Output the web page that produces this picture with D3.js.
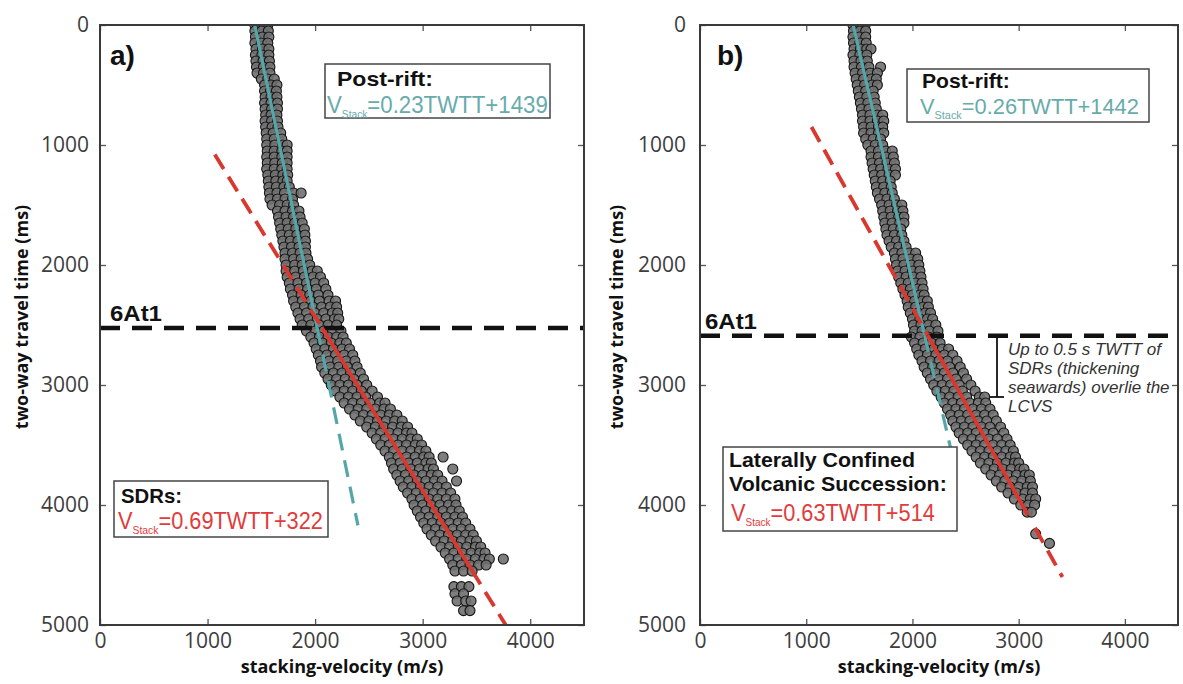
<!DOCTYPE html>
<html>
<head>
<meta charset="utf-8">
<script src="https://d3js.org/d3.v7.min.js"></script>
<style>
  body { margin: 0; background: #fff; }
  svg { display: block; }
</style>
</head>
<body>
<div id="chart"></div>
<script>
const svgWidth = 1183, svgHeight = 684;

const xTicks = [0, 1000, 2000, 3000, 4000];
const yTicks = [0, 1000, 2000, 3000, 4000, 5000];
const xDomain = [0, 4500];
const yDomain = [0, 5000];

// scatter picks, one row per TWTT (ms): [twtt, [stacking velocities (m/s)]]
const aPostRiftRows = [
  [0, [1440, 1500, 1560]], [50, [1440, 1505, 1565]], [100, [1445, 1510, 1570]],
  [150, [1440, 1500, 1560]], [200, [1450, 1510, 1570]], [250, [1445, 1505, 1570]],
  [300, [1450, 1515, 1575]], [350, [1455, 1520, 1580]], [400, [1460, 1520, 1580]],
  [450, [1500, 1560, 1620]], [500, [1530, 1590, 1645]], [550, [1530, 1585, 1640]],
  [600, [1535, 1590, 1645]], [650, [1530, 1590, 1650]], [700, [1535, 1595, 1650]],
  [750, [1540, 1590, 1645]], [800, [1535, 1595, 1650]], [850, [1540, 1600, 1655]],
  [900, [1545, 1610, 1680]], [950, [1550, 1620, 1690]], [1000, [1550, 1625, 1700, 1740]],
  [1050, [1555, 1620, 1690, 1740]], [1100, [1550, 1620, 1690, 1740]], [1150, [1555, 1625, 1695, 1740]],
  [1200, [1550, 1620, 1690, 1740]], [1250, [1560, 1630, 1700, 1745]], [1300, [1565, 1635, 1700, 1740]],
  [1350, [1570, 1640, 1710, 1760]], [1400, [1575, 1645, 1715, 1800, 1870]], [1450, [1580, 1650, 1720, 1790]],
  [1500, [1600, 1670, 1740, 1800]], [1550, [1650, 1720, 1790, 1850]], [1600, [1660, 1730, 1800, 1860]],
  [1650, [1670, 1740, 1810, 1880]], [1700, [1680, 1750, 1820, 1900]], [1750, [1690, 1760, 1830, 1905]],
  [1800, [1700, 1770, 1840, 1910]], [1850, [1710, 1780, 1850, 1910]], [1900, [1720, 1790, 1860, 1915]],
  [1950, [1720, 1800, 1870, 1930]], [2000, [1730, 1810, 1880, 1950]], [2050, [1730, 1810, 1890, 1970, 2020]],
  [2100, [1740, 1820, 1900, 1980, 2050]], [2150, [1760, 1840, 1920, 2000, 2080]], [2200, [1770, 1850, 1930, 2010, 2100]],
  [2250, [1790, 1870, 1950, 2030, 2120]], [2300, [1800, 1880, 1960, 2040, 2130, 2190]],
  [2350, [1820, 1900, 1980, 2060, 2140, 2200]], [2400, [1840, 1920, 2000, 2080, 2160, 2210]],
  [2450, [1860, 1940, 2020, 2100, 2180, 2220]], [2500, [1880, 1960, 2040, 2120, 2200]]
];
const aSdrRows = [
  [2550, [1920, 2000, 2080, 2160, 2240]], [2600, [1960, 2040, 2120, 2200, 2260]],
  [2650, [1990, 2070, 2150, 2230, 2290]], [2700, [2010, 2090, 2170, 2250, 2320]],
  [2750, [2030, 2110, 2190, 2270, 2350]], [2800, [2050, 2130, 2210, 2290, 2370]],
  [2850, [2060, 2140, 2220, 2300, 2390]], [2900, [2090, 2170, 2250, 2330, 2420]],
  [2950, [2120, 2200, 2280, 2360, 2450]], [3000, [2150, 2230, 2310, 2390, 2480]],
  [3050, [2190, 2270, 2350, 2430, 2530]], [3100, [2230, 2310, 2390, 2470, 2580]],
  [3150, [2270, 2350, 2430, 2510, 2600, 2650]], [3200, [2320, 2400, 2480, 2560, 2640, 2700]],
  [3250, [2370, 2450, 2530, 2610, 2690, 2760]], [3300, [2420, 2500, 2580, 2660, 2740, 2810]],
  [3350, [2480, 2560, 2640, 2720, 2800, 2860]], [3400, [2530, 2610, 2690, 2770, 2850, 2900]],
  [3450, [2570, 2650, 2730, 2810, 2890, 2950]], [3500, [2610, 2690, 2770, 2850, 2930, 2990]],
  [3550, [2650, 2730, 2810, 2890, 2970, 3030]], [3600, [2690, 2770, 2850, 2930, 3010, 3060, 3190]],
  [3650, [2710, 2790, 2870, 2950, 3030, 3080]], [3700, [2730, 2810, 2890, 2970, 3050, 3100, 3280]],
  [3750, [2760, 2840, 2920, 3000, 3080, 3140]], [3800, [2790, 2870, 2950, 3030, 3110, 3180, 3315]],
  [3850, [2820, 2900, 2980, 3060, 3140, 3220]], [3900, [2860, 2940, 3020, 3100, 3180, 3260]],
  [3950, [2900, 2980, 3060, 3140, 3220, 3300]], [4000, [2920, 3000, 3080, 3160, 3240, 3310]],
  [4050, [2950, 3030, 3110, 3190, 3270, 3340]], [4100, [2980, 3060, 3140, 3220, 3300, 3370]],
  [4150, [3010, 3090, 3170, 3250, 3330, 3400]], [4200, [3040, 3120, 3200, 3280, 3360, 3440]],
  [4250, [3080, 3160, 3240, 3320, 3400, 3470]], [4300, [3120, 3200, 3280, 3360, 3440, 3500]],
  [4350, [3170, 3250, 3330, 3410, 3490, 3540]], [4400, [3210, 3290, 3370, 3450, 3530, 3580]],
  [4450, [3250, 3330, 3410, 3490, 3570, 3620, 3750]], [4500, [3280, 3360, 3440, 3520, 3590]],
  [4550, [3300, 3380, 3460]], [4680, [3290, 3360, 3430]], [4740, [3300, 3380]],
  [4800, [3320, 3400, 3450]], [4880, [3380, 3440]]
];
const bPostRiftRows = [
  [0, [1440, 1500, 1555]], [50, [1445, 1505, 1560]], [100, [1440, 1500, 1560]],
  [150, [1445, 1505, 1565]], [200, [1450, 1510, 1570, 1610]], [250, [1440, 1505, 1570]],
  [300, [1450, 1515, 1575]], [350, [1450, 1520, 1590, 1700]], [400, [1460, 1530, 1600, 1670]],
  [450, [1470, 1540, 1610, 1660]], [500, [1480, 1550, 1620, 1670]], [550, [1490, 1560, 1630]],
  [600, [1500, 1570, 1640]], [650, [1510, 1580, 1650]], [700, [1520, 1590, 1660]],
  [750, [1530, 1600, 1670, 1720]], [800, [1530, 1600, 1670, 1730]], [850, [1540, 1610, 1680, 1720]],
  [900, [1540, 1610, 1680, 1730]], [950, [1560, 1630, 1700]], [1000, [1580, 1650, 1720]],
  [1050, [1610, 1680, 1750, 1810]], [1100, [1610, 1680, 1750, 1820]], [1150, [1620, 1690, 1760, 1830]],
  [1200, [1630, 1700, 1770, 1840]], [1250, [1640, 1710, 1780, 1840]], [1300, [1650, 1720, 1790]],
  [1350, [1660, 1730, 1800]], [1400, [1670, 1740, 1810]], [1450, [1690, 1760, 1830]],
  [1500, [1710, 1780, 1850, 1900]], [1550, [1720, 1790, 1860, 1910]], [1600, [1730, 1800, 1870, 1920]],
  [1650, [1740, 1810, 1880, 1920]], [1700, [1750, 1820, 1890]], [1750, [1760, 1830, 1900]],
  [1800, [1780, 1850, 1920]], [1850, [1800, 1870, 1940]], [1900, [1830, 1900, 1970, 2030]],
  [1950, [1840, 1910, 1980, 2050]], [2000, [1850, 1920, 1990, 2060]], [2050, [1860, 1930, 2000, 2070]],
  [2100, [1870, 1940, 2010, 2080]], [2150, [1890, 1960, 2030, 2090]], [2200, [1910, 1980, 2050, 2100]],
  [2250, [1930, 2000, 2070, 2110]], [2300, [1950, 2020, 2090, 2140]], [2350, [1960, 2030, 2100, 2150]],
  [2400, [1980, 2050, 2120, 2170]], [2450, [2000, 2070, 2140, 2190]], [2500, [2010, 2080, 2150, 2220]],
  [2550, [2020, 2090, 2160, 2240]]
];
const bLcvsRows = [
  [2600, [1990, 2070, 2150, 2230]], [2650, [2020, 2100, 2180, 2260]],
  [2700, [2040, 2120, 2200, 2280, 2340]], [2750, [2060, 2140, 2220, 2300, 2380]],
  [2800, [2090, 2170, 2250, 2330, 2420]], [2850, [2110, 2190, 2270, 2350, 2450]],
  [2900, [2140, 2220, 2300, 2380, 2480]], [2950, [2170, 2250, 2330, 2410, 2510]],
  [3000, [2200, 2280, 2360, 2440, 2550]], [3050, [2230, 2310, 2390, 2470, 2590]],
  [3100, [2270, 2350, 2430, 2510, 2630, 2680]], [3150, [2300, 2380, 2460, 2540, 2620, 2690]],
  [3200, [2330, 2410, 2490, 2570, 2650, 2730]], [3250, [2360, 2440, 2520, 2600, 2680, 2760]],
  [3300, [2380, 2460, 2540, 2620, 2700, 2790]], [3350, [2410, 2490, 2570, 2650, 2730, 2830]],
  [3400, [2440, 2520, 2600, 2680, 2760, 2860]], [3450, [2480, 2560, 2640, 2720, 2800, 2890]],
  [3500, [2520, 2600, 2680, 2760, 2840, 2920]], [3550, [2560, 2640, 2720, 2800, 2880, 2950]],
  [3600, [2600, 2680, 2760, 2840, 2920, 2970]], [3650, [2640, 2720, 2800, 2880, 2960, 3000]],
  [3700, [2690, 2770, 2850, 2930, 3010, 3050]], [3750, [2740, 2820, 2900, 2980, 3060, 3100]],
  [3800, [2790, 2870, 2950, 3030, 3110]], [3850, [2840, 2920, 3000, 3080, 3130]],
  [3900, [2900, 2980, 3060, 3130]], [3950, [2960, 3040, 3110, 3160]],
  [4000, [3020, 3090, 3150]], [4060, [3080, 3120]], [4240, [3160]], [4320, [3290]]
];

// regression fits [slope, intercept] : Vstack = slope * TWTT + intercept
const aPostRiftFit = [0.23, 1439];
const aSdrFit = [0.69, 322];
const bPostRiftFit = [0.26, 1442];
const bLcvsFit = [0.63, 514];

// TWTT spans over which each fit is drawn: [from, to, dashed]
const aPostRiftSpans = [[0, 2525, false], [2525, 4170, true]];
const aSdrSpans = [[1080, 2525, true], [2525, 4540, false], [4540, 5000, true]];
const bPostRiftSpans = [[0, 2585, false], [2585, 3520, true]];
const bLcvsSpans = [[850, 2585, true], [2585, 4085, false], [4190, 4600, true]];

// 6At1 horizon (TWTT ms)
const horizons = [2525, 2590];
const panelLabels = ['a)', 'b)'];
const horizonLabel = '6At1';
const xTitle = 'stacking-velocity (m/s)';
const yTitle = 'two-way travel time (ms)';
const noteLines = ['Up to 0.5 s TWTT of', 'SDRs (thickening', 'seawards) overlie the', 'LCVS'];

const teal = '#55a6a8', red = '#d9382f';
const sans = '"Liberation Sans", Arial, sans-serif';
const uiFont = '"Open Sans", sans-serif';

const svg = d3.select('#chart')
    .append('svg')
    .attr('width', svgWidth)
    .attr('height', svgHeight);

const plotTop = 25, plotBottom = 625;

function flatten(rows) {
    const out = [];
    rows.forEach(([t, vs]) => vs.forEach(v => out.push({t: t, v: v})));
    return out;
}

// squeeze a text element horizontally so it spans width w from its x
function fitWidth(sel, w) {
    const x0 = +sel.attr('x'), y0 = +sel.attr('y');
    const bw = sel.node().getBBox().width;
    const k = w / bw;
    sel.attr('transform', `translate(${x0},${y0}) scale(${k},1) translate(${-x0},${-y0})`);
}

function equation(g, fit, color, x, y, w, size) {
    const t = g.append('text')
        .attr('x', x).attr('y', y)
        .attr('fill', color)
        .style('font-family', sans)
        .style('font-size', size + 'px');
    t.append('tspan').text('V');
    t.append('tspan').attr('dy', 5).style('font-size', '11px').text('Stack');
    t.append('tspan').attr('dy', -5).text(`=${fit[0]}TWTT+${fit[1]}`);
    fitWidth(t, w);
}

function titleLine(g, txt, x, y, w, size) {
    const t = g.append('text')
        .attr('x', x).attr('y', y)
        .attr('fill', '#111')
        .style('font-family', sans)
        .style('font-weight', 'bold')
        .style('font-size', size + 'px')
        .text(txt);
    fitWidth(t, w);
}

function drawPanel(p) {
    const x = d3.scaleLinear().domain(xDomain).range([p.left, p.right]);
    const y = d3.scaleLinear().domain(yDomain).range([plotTop, plotBottom]);
    const g = svg.append('g');

    const clipId = 'clip-' + p.id;
    g.append('clipPath').attr('id', clipId)
        .append('rect')
        .attr('x', p.left).attr('y', plotTop)
        .attr('width', p.right - p.left).attr('height', plotBottom - plotTop);

    // axes with inward ticks on all four sides
    const styleAxis = a => {
        a.select('.domain').remove();
        a.selectAll('.tick line').attr('stroke', '#555').attr('stroke-width', 1.3);
        a.selectAll('.tick text')
            .attr('fill', '#3d3d3d')
            .style('font-family', uiFont)
            .style('font-size', '21px');
    };
    const plain = d3.format('d');
    g.append('g').attr('transform', `translate(0,${plotBottom})`)
        .call(d3.axisBottom(x).tickValues(xTicks).tickFormat(plain).tickSize(-6).tickPadding(8))
        .call(styleAxis);
    g.append('g').attr('transform', `translate(0,${plotTop})`)
        .call(d3.axisTop(x).tickValues(xTicks).tickSize(-6).tickFormat(''))
        .call(styleAxis);
    g.append('g').attr('transform', `translate(${p.left},0)`)
        .call(d3.axisLeft(y).tickValues(yTicks).tickFormat(plain).tickSize(-6).tickPadding(p.yPad))
        .call(styleAxis);
    g.append('g').attr('transform', `translate(${p.right},0)`)
        .call(d3.axisRight(y).tickValues(yTicks).tickSize(-6).tickFormat(''))
        .call(styleAxis);

    // axis titles
    g.append('text')
        .attr('x', (p.left + p.right) / 2).attr('y', 673)
        .attr('text-anchor', 'middle')
        .attr('fill', '#111')
        .style('font-family', uiFont).style('font-weight', 'bold').style('font-size', '18px')
        .text(xTitle);
    g.append('text')
        .attr('transform', `translate(${p.yTitleX},${(plotTop + plotBottom) / 2 - 8}) rotate(-90)`)
        .attr('text-anchor', 'middle')
        .attr('dy', '0.35em')
        .attr('fill', '#111')
        .style('font-family', uiFont).style('font-weight', 'bold').style('font-size', '18px')
        .text(yTitle);

    const inner = g.append('g').attr('clip-path', `url(#${clipId})`);

    // scatter picks
    inner.selectAll('circle')
        .data(flatten(p.rows))
        .enter()
        .append('circle')
        .attr('cx', d => x(d.v))
        .attr('cy', d => y(d.t))
        .attr('r', 5)
        .attr('fill', '#707070')
        .attr('fill-opacity', 0.9)
        .attr('stroke', '#151515')
        .attr('stroke-width', 1.1);

    // 6At1 horizon
    inner.append('line')
        .attr('x1', p.left).attr('x2', p.right)
        .attr('y1', y(p.horizon)).attr('y2', y(p.horizon))
        .attr('stroke', '#111')
        .attr('stroke-width', 4.5)
        .attr('stroke-dasharray', '20,12');

    // regression lines
    const line = d3.line().x(d => x(d.v)).y(d => y(d.t));
    p.fits.forEach(f => {
        f.spans.forEach(([t0, t1, dashed]) => {
            const pts = [t0, t1].map(t => ({t: t, v: f.coef[0] * t + f.coef[1]}));
            inner.append('path')
                .datum(pts)
                .attr('fill', 'none')
                .attr('stroke', f.color)
                .attr('stroke-width', f.width)
                .attr('stroke-dasharray', dashed ? f.dash : null)
                .attr('d', line);
        });
    });

    // frame
    g.append('rect')
        .attr('x', p.left).attr('y', plotTop)
        .attr('width', p.right - p.left).attr('height', plotBottom - plotTop)
        .attr('fill', 'none')
        .attr('stroke', '#3a3a3a')
        .attr('stroke-width', 2);

    // panel letter and horizon name
    g.append('text')
        .attr('x', p.labelX).attr('y', 65)
        .attr('fill', '#111')
        .style('font-family', sans).style('font-weight', 'bold').style('font-size', '28px')
        .text(p.label);
    const hz = g.append('text')
        .attr('x', p.hzX).attr('y', y(p.horizon) - 7)
        .attr('fill', '#111')
        .style('font-family', sans).style('font-weight', 'bold').style('font-size', '22px')
        .text(horizonLabel);
    fitWidth(hz, 52);

    // annotation boxes
    p.boxes.forEach(b => {
        g.append('rect')
            .attr('x', b.x).attr('y', b.y).attr('width', b.w).attr('height', b.h)
            .attr('fill', '#fff')
            .attr('stroke', '#444')
            .attr('stroke-width', 1.5);
        b.titles.forEach(tl => titleLine(g, tl.text, tl.x, tl.y, tl.w, b.titleSize));
        equation(g, b.fit, b.color, b.eq.x, b.eq.y, b.eq.w, b.eqSize);
    });

    return {x: x, y: y, g: g};
}

drawPanel({
    id: 'a', left: 100, right: 584, yPad: 11, yTitleX: 22, label: panelLabels[0], labelX: 110, hzX: 110,
    rows: aPostRiftRows.concat(aSdrRows),
    horizon: horizons[0],
    fits: [
        {coef: aPostRiftFit, spans: aPostRiftSpans, color: teal, width: 3.2, dash: '17,10'},
        {coef: aSdrFit, spans: aSdrSpans, color: red, width: 3.8, dash: '17,9'}
    ],
    boxes: [
        {x: 325, y: 64, w: 225, h: 54, fit: aPostRiftFit, color: '#68abab', titleSize: 21, eqSize: 24,
         titles: [{text: 'Post-rift:', x: 337, y: 86, w: 96}], eq: {x: 327, y: 113, w: 221}},
        {x: 114, y: 481, w: 214, h: 56, fit: aSdrFit, color: '#e23b3b', titleSize: 21, eqSize: 23,
         titles: [{text: 'SDRs:', x: 121, y: 503, w: 61}], eq: {x: 118, y: 529, w: 205}}
    ]
});

const pb = drawPanel({
    id: 'b', left: 700, right: 1178, yPad: 14, yTitleX: 617, label: panelLabels[1], labelX: 717, hzX: 705,
    rows: bPostRiftRows.concat(bLcvsRows),
    horizon: horizons[1],
    fits: [
        {coef: bPostRiftFit, spans: bPostRiftSpans, color: teal, width: 3.2, dash: '17,10'},
        {coef: bLcvsFit, spans: bLcvsSpans, color: red, width: 3.8, dash: '17,9'}
    ],
    boxes: [
        {x: 907, y: 69, w: 242, h: 53, fit: bPostRiftFit, color: '#68abab', titleSize: 20, eqSize: 22,
         titles: [{text: 'Post-rift:', x: 922, y: 88, w: 88}], eq: {x: 920, y: 114, w: 219}},
        {x: 723, y: 447, w: 234, h: 84, fit: bLcvsFit, color: '#e23b3b', titleSize: 21, eqSize: 24,
         titles: [{text: 'Laterally Confined', x: 729, y: 467, w: 186},
                  {text: 'Volcanic Succession:', x: 729, y: 491, w: 218}],
         eq: {x: 731, y: 521, w: 204}}
    ]
});

// thickness bracket and note (panel b)
const bx = 997;
const bracket = pb.g.append('g').attr('stroke', '#111').attr('stroke-width', 1.8);
bracket.append('line').attr('x1', bx).attr('x2', bx).attr('y1', pb.y(2600)).attr('y2', pb.y(3100));
bracket.append('line').attr('x1', bx - 7).attr('x2', bx + 7).attr('y1', pb.y(2600)).attr('y2', pb.y(2600));
bracket.append('line').attr('x1', bx - 7).attr('x2', bx + 7).attr('y1', pb.y(3100)).attr('y2', pb.y(3100));

noteLines.forEach((s, i) => {
    pb.g.append('text')
        .attr('x', 1008).attr('y', 355 + i * 19)
        .attr('fill', '#333')
        .style('font-family', sans).style('font-style', 'italic').style('font-size', '17px')
        .text(s);
});
</script>
</body>
</html>
